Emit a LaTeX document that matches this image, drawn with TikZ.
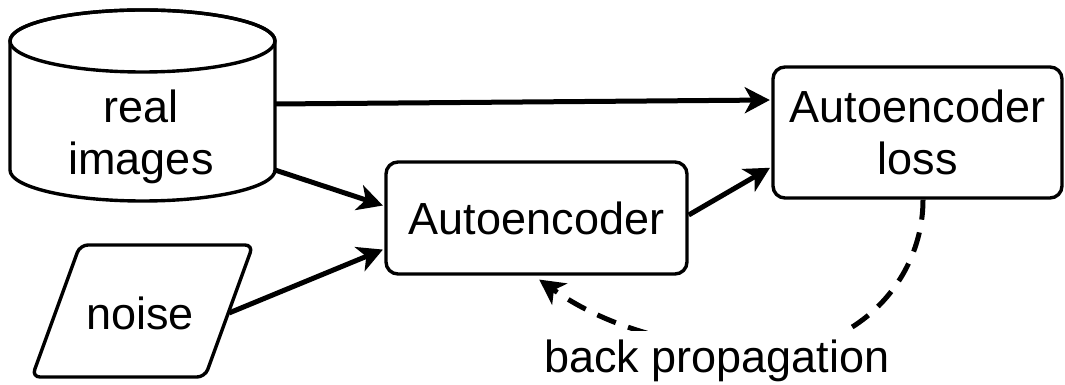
\documentclass[tikz,border=0pt]{standalone}
\usepackage{fontspec}
\setmainfont{Liberation Sans}
\usetikzlibrary{arrows.meta}
\begin{document}
\begin{tikzpicture}[x=1pt,y=1pt,
  txt/.style={font=\fontsize{45}{52}\selectfont, align=center},
  box/.style={draw, line width=3.4pt, rounded corners=12pt, fill=white, inner sep=0pt},
  outline/.style={draw, line width=3.4pt, fill=white},
  flow/.style={line width=5pt, shorten >=1.5pt, -{Stealth[length=25pt,width=26pt,inset=7pt]}},
  backflow/.style={flow, dash pattern=on 20pt off 13pt}
]
\useasboundingbox (0,0) rectangle (1065,385);

% data store: cylinder drawn from its outline and top rim
\path[outline] (10,344) -- (10,215)
  arc[start angle=180, end angle=360, x radius=132.5, y radius=31]
  -- (275,344)
  arc[start angle=0, end angle=180, x radius=132.5, y radius=31] -- cycle;
\draw[line width=3.4pt] (142.5,344) ellipse[x radius=132.5, y radius=31];
\node[txt] (cyl) at (141,248.4) {real\\images};
\coordinate (cylA) at (275,281);
\coordinate (cylB) at (275,215);

% input: slanted parallelogram
\path[outline, rounded corners=8pt] (166.5,140) -- (253,140) -- (205,8) -- (32,8) -- (80,140) -- cycle;
\node[txt, anchor=base] (noise) at (140,55) {noise};
\coordinate (noiseR) at (229,72);

% processing boxes
\node[box, txt, minimum width=301pt, minimum height=112pt] (ae) at (536.5,167) {Autoencoder};
\node[box, txt, minimum width=289pt, minimum height=131pt] (loss) at (917.5,252.5) {Autoencoder\\loss};

% forward connections
\draw[flow] (cylA) -- ([yshift=32.5pt]loss.west);
\draw[flow] (cylB) -- ([yshift=12pt]ae.west);
\draw[flow] (noiseR) -- ([yshift=-31pt]ae.west);
\draw[flow] ([yshift=3pt]ae.east) -- ([yshift=-34.5pt]loss.west);

% gradient feedback
\draw[backflow] ([xshift=5.5pt]loss.south) .. controls (923,104) and (856,35) .. (773,35)
  .. controls (690,35) and (610,55) .. ([xshift=1.5pt,yshift=-3pt]ae.south);
\node[txt, anchor=base, fill=white, inner xsep=4pt, inner ysep=9pt] (bp) at (717,12) {back propagation};
\end{tikzpicture}
\end{document}
